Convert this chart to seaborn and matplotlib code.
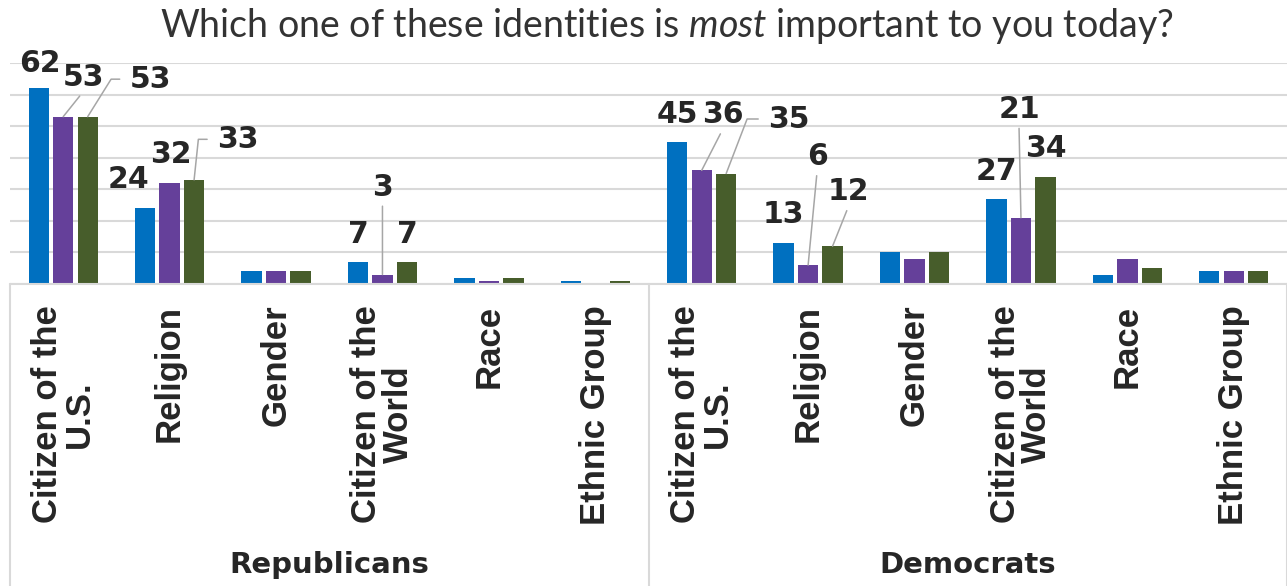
import matplotlib
matplotlib.use("Agg")
import matplotlib.pyplot as plt
import matplotlib.transforms as mtransforms
import numpy as np
import pandas as pd
import seaborn as sns

# data (percent)
parties = ["Republicans", "Democrats"]
identities = ["Citizen of the\nU.S.", "Religion", "Gender",
              "Citizen of the\nWorld", "Race", "Ethnic Group"]
series_names = ["Series 1", "Series 2", "Series 3"]

rep_s1 = [62, 24, 4, 7, 2, 1]
rep_s2 = [53, 32, 4, 3, 1, 0]
rep_s3 = [53, 33, 4, 7, 2, 1]
dem_s1 = [45, 13, 10, 27, 3, 4]
dem_s2 = [36, 6, 8, 21, 8, 4]
dem_s3 = [35, 12, 10, 34, 5, 4]

title = r"Which one of these identities is $\mathit{most}$ important to you today?"

# label placement: (party, identity, series) -> (dx px, dy px, leader)
# leader: None = plain, "line" = straight leader, number = elbow angle (deg)
label_layout = {
    (0, 0, 0): (1, 26, None),
    (0, 0, 1): (20, 41, "line"),
    (0, 0, 2): (63, 39, 58),
    (0, 1, 0): (-17, 30, None),
    (0, 1, 1): (1, 30, None),
    (0, 1, 2): (44, 42, 84),
    (0, 3, 0): (0, 29, None),
    (0, 3, 1): (0, 89, "line"),
    (0, 3, 2): (0, 29, None),
    (1, 0, 0): (0, 29, None),
    (1, 0, 1): (21, 57, "line"),
    (1, 0, 2): (63, 56, 69),
    (1, 1, 0): (0, 30, None),
    (1, 1, 1): (9, 110, "line"),
    (1, 1, 2): (16, 56, "line"),
    (1, 3, 0): (0, 29, None),
    (1, 3, 1): (-2, 110, "line"),
    (1, 3, 2): (0, 30, None),
}

palette = ["#0070c0", "#65409a", "#475d2b"]
grid_color = "#d9d9d9"
leader_color = "#a6a6a6"
text_color = "#262626"

sns.set_theme(style="white")
plt.rcParams["font.family"] = ["DejaVu Sans"]
plt.rcParams["mathtext.fontset"] = "custom"
plt.rcParams["mathtext.rm"] = "Lato"
plt.rcParams["mathtext.it"] = "Lato:italic"

values = {"Republicans": [rep_s1, rep_s2, rep_s3],
          "Democrats": [dem_s1, dem_s2, dem_s3]}
rows = []
for party in parties:
    for s, name in enumerate(series_names):
        for i, ident in enumerate(identities):
            rows.append({"slot": f"{party}|{ident}", "series": name,
                         "value": values[party][s][i]})
df = pd.DataFrame(rows)
order = [f"{p}|{ident}" for p in parties for ident in identities]

W, H = 1287, 586
fig = plt.figure(figsize=(W / 100, H / 100), dpi=100)
ax = fig.add_axes([10 / W, 1 - 284 / H, 1277 / W, 221 / H])

sns.barplot(data=df, x="slot", y="value", hue="series", order=order,
            hue_order=series_names, palette=palette, saturation=1,
            width=0.69, gap=0.17, linewidth=0, ax=ax, legend=False,
            errorbar=None)

ax.set_xlim(-0.5, len(order) - 0.5)
ax.set_ylim(0, 70)
ax.set_yticks(np.arange(0, 80, 10))
ax.set_yticklabels([])
ax.yaxis.grid(True, color=grid_color, lw=1.5)
ax.set_axisbelow(True)
for sp in ax.spines.values():
    sp.set_visible(False)
ax.set_xlabel("")
ax.set_ylabel("")
ax.set_xticks(range(len(order)))
ax.set_xticklabels(identities * 2, rotation=90, ha="center", va="top",
                   multialignment="center", linespacing=0.95,
                   family="Liberation Sans", fontweight="bold",
                   fontsize=25, color=text_color)
ax.tick_params(axis="both", length=0)
ax.tick_params(axis="x", pad=15)

# category axis frame lines below the plot
trans = mtransforms.blended_transform_factory(ax.transData, ax.transAxes)
depth = -(H - 284) / 221
ax.plot([-0.5, len(order) - 0.5], [0, 0], transform=trans, color=grid_color,
        lw=1.5, clip_on=False)
for xs in [-0.5, 5.5, len(order) - 0.5]:
    ax.plot([xs, xs], [0, depth], transform=trans, color=grid_color, lw=1.5,
            clip_on=False)

for p_i, party in enumerate(parties):
    ax.text(p_i * 6 + 2.5, -1.27, party, transform=trans, ha="center",
            va="center", fontsize=21, fontweight="bold", color=text_color)

# data labels with Excel-style leader lines
for (p_i, i, s), (dx, dy, leader) in label_layout.items():
    bar = ax.containers[s].patches[p_i * 6 + i]
    bx = bar.get_x() + bar.get_width() / 2
    by = bar.get_height()
    kw = {}
    if leader == "line":
        kw["arrowprops"] = dict(arrowstyle="-", color=leader_color, lw=1.1,
                                shrinkA=1, shrinkB=0, relpos=(0.5, 0))
    elif leader is not None:
        kw["arrowprops"] = dict(arrowstyle="-", color=leader_color, lw=1.1,
                                shrinkA=5, shrinkB=0, relpos=(0, 0.5),
                                connectionstyle=f"angle,angleA=0,angleB={leader},rad=0")
    val = values[parties[p_i]][s][i]
    ax.annotate(f"{val:g}", xy=(bx, by), xytext=(dx, dy - 10),
                textcoords="offset pixels", ha="center", va="baseline",
                fontsize=21.5, fontweight="bold", color=text_color,
                annotation_clip=False, **kw)

fig.text(667 / W, 1 - 26 / H, title, ha="center", va="center", fontsize=27,
         family="Lato", color="#333333")

fig.savefig("out.png", dpi=100)
